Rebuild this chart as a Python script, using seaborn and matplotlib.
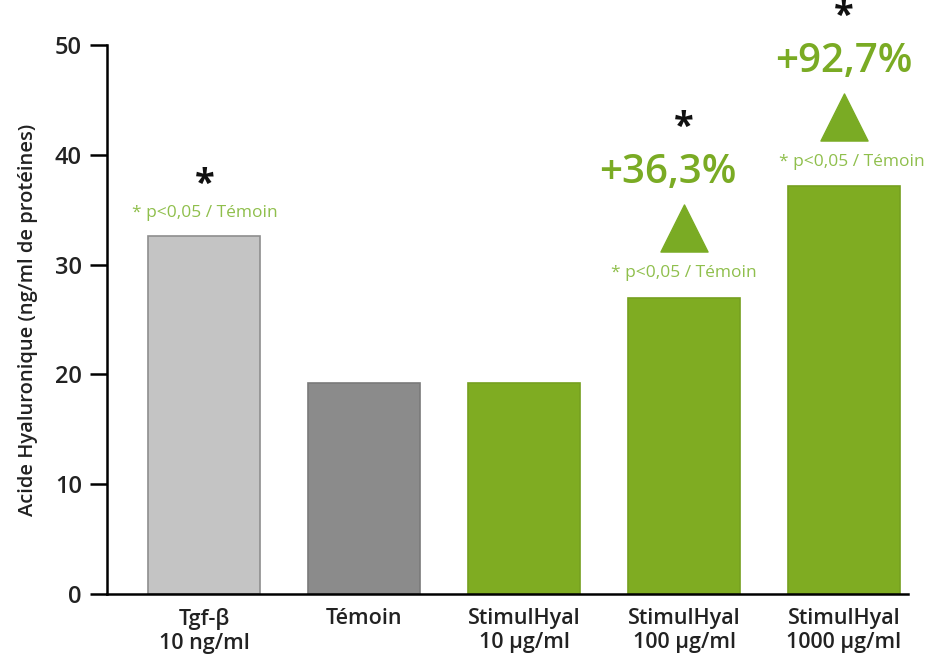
import numpy as np
import pandas as pd
import matplotlib
matplotlib.use("Agg")
import matplotlib.pyplot as plt
import seaborn as sns

# data
groups = ["Tgf-β\n10 ng/ml", "Témoin", "StimulHyal\n10 µg/ml",
          "StimulHyal\n100 µg/ml", "StimulHyal\n1000 µg/ml"]
values = [32.6, 19.2, 19.2, 27.0, 37.1]
bar_colors = ["#c4c4c4", "#8b8b8b", "#7fac22", "#7fac22", "#7fac22"]
edge_colors = ["#8e8e8e", "#7a7a7a", "#76a01f", "#76a01f", "#76a01f"]
signif = [True, False, False, True, True]
increase = [None, None, None, "+36,3%", "+92,7%"]
y_ticks = [0, 10, 20, 30, 40, 50]

GREEN = "#7aab24"
PGREEN = "#8fbf4c"

sns.set_style("white")
plt.rcParams["font.family"] = ["Open Sans", "DejaVu Sans"]

df = pd.DataFrame({"group": groups, "value": values})

fig, ax = plt.subplots(figsize=(9.37, 6.67), dpi=100)
fig.subplots_adjust(left=0.114, right=0.969, bottom=0.109, top=0.933)

sns.barplot(data=df, x="group", y="value", hue="group", palette=bar_colors,
            legend=False, width=0.7, ax=ax, linewidth=1.2, saturation=1)
for patch, ec in zip(ax.patches, edge_colors):
    patch.set_edgecolor(ec)

ax.set_ylim(0, 50)
ax.set_xlim(-0.61, 4.4)
ax.set_yticks(y_ticks)
ax.set_xlabel("")
ax.set_ylabel("Acide Hyaluronique (ng/ml de protéines)", fontsize=14.5,
              fontweight="semibold", color="#222222", labelpad=12)
ax.tick_params(axis="y", direction="out", length=12, width=1.8, color="black",
               labelsize=17, pad=6, left=True)
ax.tick_params(axis="x", length=0, labelsize=15.5, pad=10)
for lbl in ax.get_xticklabels() + ax.get_yticklabels():
    lbl.set_fontweight("semibold")
    lbl.set_color("#222222")

sns.despine(ax=ax)
ax.spines["left"].set_linewidth(1.8)
ax.spines["bottom"].set_linewidth(1.8)
ax.spines["left"].set_color("black")
ax.spines["bottom"].set_color("black")

# annotations above bars
for i, (v, s, inc) in enumerate(zip(values, signif, increase)):
    if not s:
        continue
    if inc is None:
        ax.text(i, v + 2.1, "* p<0,05 / Témoin", ha="center", va="center",
                fontsize=12.5, color=PGREEN)
        ax.text(i, v + 4.6, "*", ha="center", va="center", fontsize=26,
                fontweight="bold", color="#111111")
    else:
        ax.text(i + 0.05 if i == 4 else i, v + 2.2, "* p<0,05 / Témoin",
                ha="center", va="center", fontsize=12.5, color=PGREEN)
        ax.scatter([i], [v + 6.3], marker="^", s=1150, color=GREEN, zorder=3,
                   clip_on=False)
        ax.text(i - 0.1 if i == 3 else i, v + 11.3, inc, ha="center", va="center",
                fontsize=29, fontweight="semibold", color=GREEN, clip_on=False)
        ax.text(i, v + 15.4, "*", ha="center", va="center", fontsize=26,
                fontweight="bold", color="#111111", clip_on=False)

fig.savefig("out.png", dpi=100, facecolor="white")
